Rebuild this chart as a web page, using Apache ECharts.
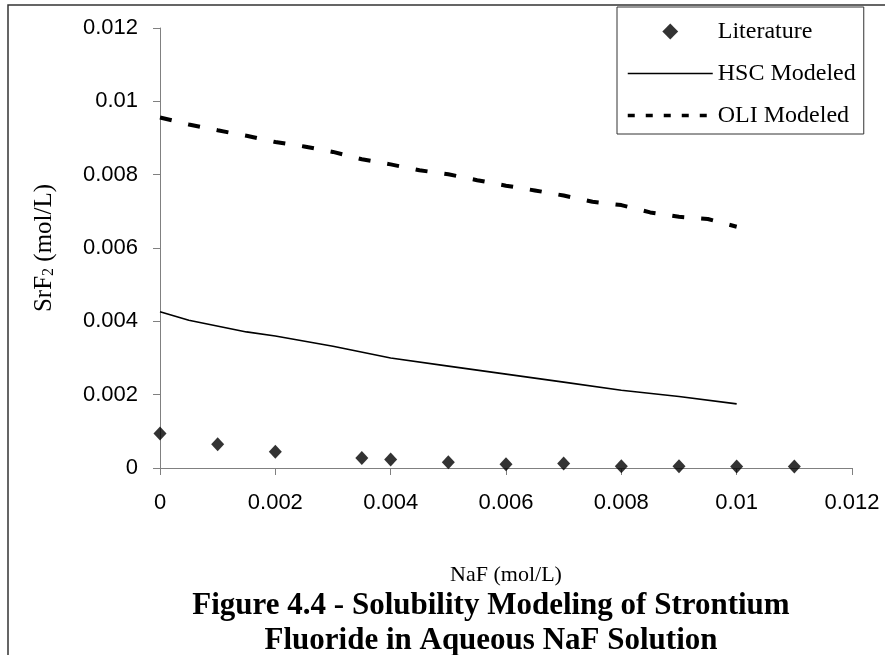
<!DOCTYPE html>
<html>
<head>
<meta charset="utf-8">
<script src="https://cdn.jsdelivr.net/npm/echarts@6/dist/echarts.min.js"></script>
<style>
  html, body { margin: 0; padding: 0; background: #fff; }
  #chart { width: 885px; height: 655px; }
</style>
</head>
<body>
<div id="chart"></div>
<script>
// literature points
var litX = [0, 0.001, 0.002, 0.0035, 0.004, 0.005, 0.006, 0.007, 0.008, 0.009, 0.01, 0.011];
var litY = [0.00094, 0.00065, 0.00044, 0.00027, 0.00023, 0.00016, 0.00010, 0.00012, 0.00005, 0.00005, 0.00004, 0.00004];

// HSC model
var hscX = [0, 0.0005, 0.0015, 0.002, 0.003, 0.004, 0.005, 0.006, 0.007, 0.008, 0.009, 0.01];
var hscY = [0.00426, 0.00403, 0.00371, 0.00360, 0.00332, 0.00300, 0.00278, 0.00256, 0.00234, 0.00212, 0.00195, 0.00175];

// OLI model
var oliX = [0, 0.0005, 0.001, 0.0015, 0.002, 0.0025, 0.003, 0.0035, 0.004, 0.0045, 0.005,
  0.0055, 0.006, 0.0065, 0.007, 0.0075, 0.008, 0.0085, 0.009, 0.0095, 0.01];
var oliY = [0.00956, 0.00937, 0.00921, 0.00906, 0.00889, 0.00877, 0.00862, 0.00842, 0.00828, 0.00812, 0.00801,
  0.00785, 0.00770, 0.00757, 0.00743, 0.00726, 0.00717, 0.00697, 0.00685, 0.00679, 0.00658];

var seriesNames = ['Literature', 'HSC Modeled', 'OLI Modeled'];

function pairs(xs, ys) {
  return xs.map(function (x, i) { return [x, ys[i]]; });
}

var serif = 'Liberation Serif, Times New Roman, serif';
var sans = 'Liberation Sans, Arial, sans-serif';

// legend stretches icons to the item box, so pad the diamond path out to its width
var diamondIcon = 'path://M-35,8M51,8M0,8L8,0L16,8L8,16Z';

var chart = echarts.init(document.getElementById('chart'));

var option = {
  backgroundColor: '#fff',
  animation: false,
  title: {
    text: 'Figure 4.4 - Solubility Modeling of Strontium\nFluoride in Aqueous NaF Solution',
    left: 486,
    top: 583,
    textAlign: 'center',
    textStyle: { fontFamily: serif, fontWeight: 'bold', fontSize: 31, lineHeight: 35, color: '#000' }
  },
  grid: { left: 160, top: 28, right: 33, bottom: 187 },
  legend: {
    orient: 'vertical',
    left: 617,
    top: 7,
    padding: [12, 8, 6, 9],
    itemGap: 17,
    itemWidth: 85,
    itemHeight: 16,
    borderColor: '#333',
    borderWidth: 1,
    backgroundColor: '#fff',
    textStyle: { fontFamily: serif, fontSize: 24, lineHeight: 25, color: '#000' },
    data: [
      { name: seriesNames[0], icon: diamondIcon },
      { name: seriesNames[1], itemStyle: { opacity: 0 }, lineStyle: { width: 1.5, type: 'solid' } },
      { name: seriesNames[2], itemStyle: { opacity: 0 }, lineStyle: { width: 3.5, type: [7, 11] } }
    ]
  },
  xAxis: {
    type: 'value',
    min: 0, max: 0.012, interval: 0.002,
    name: 'NaF (mol/L)',
    nameLocation: 'middle',
    nameGap: 96,
    nameTextStyle: { fontFamily: serif, fontSize: 22, color: '#000' },
    axisLine: { lineStyle: { color: '#808080', width: 1 } },
    axisTick: { length: 7, lineStyle: { color: '#808080' } },
    axisLabel: { fontFamily: sans, fontSize: 22, color: '#000', margin: 24 },
    splitLine: { show: false }
  },
  yAxis: {
    type: 'value',
    min: 0, max: 0.012, interval: 0.002,
    name: 'SrF{sub|2} (mol/L)',
    nameLocation: 'middle',
    nameGap: 103,
    nameTextStyle: {
      fontFamily: serif, fontSize: 25, color: '#000',
      rich: { sub: { fontFamily: serif, fontSize: 16, color: '#000', padding: [10, 0, 0, 0] } }
    },
    axisLine: { show: true, lineStyle: { color: '#808080', width: 1 } },
    axisTick: { show: true, length: 7, lineStyle: { color: '#808080' } },
    axisLabel: { fontFamily: sans, fontSize: 22, color: '#000', margin: 22 },
    splitLine: { show: false }
  },
  graphic: [{
    type: 'rect',
    z: -10,
    shape: { x: 8, y: 5, width: 1000, height: 1000 },
    style: { fill: 'none', stroke: '#333', lineWidth: 1.5 }
  }],
  series: [
    {
      name: seriesNames[0],
      type: 'scatter',
      symbol: 'diamond',
      symbolSize: [13, 14],
      itemStyle: { color: '#000' },
      data: pairs(litX, litY)
    },
    {
      name: seriesNames[1],
      type: 'line',
      symbol: 'none',
      lineStyle: { color: '#000', width: 1.7 },
      itemStyle: { color: '#000' },
      data: pairs(hscX, hscY)
    },
    {
      name: seriesNames[2],
      type: 'line',
      symbol: 'none',
      lineStyle: { color: '#000', width: 4, type: [12, 17] },
      itemStyle: { color: '#000' },
      data: pairs(oliX, oliY)
    }
  ]
};

chart.setOption(option);
</script>
</body>
</html>
